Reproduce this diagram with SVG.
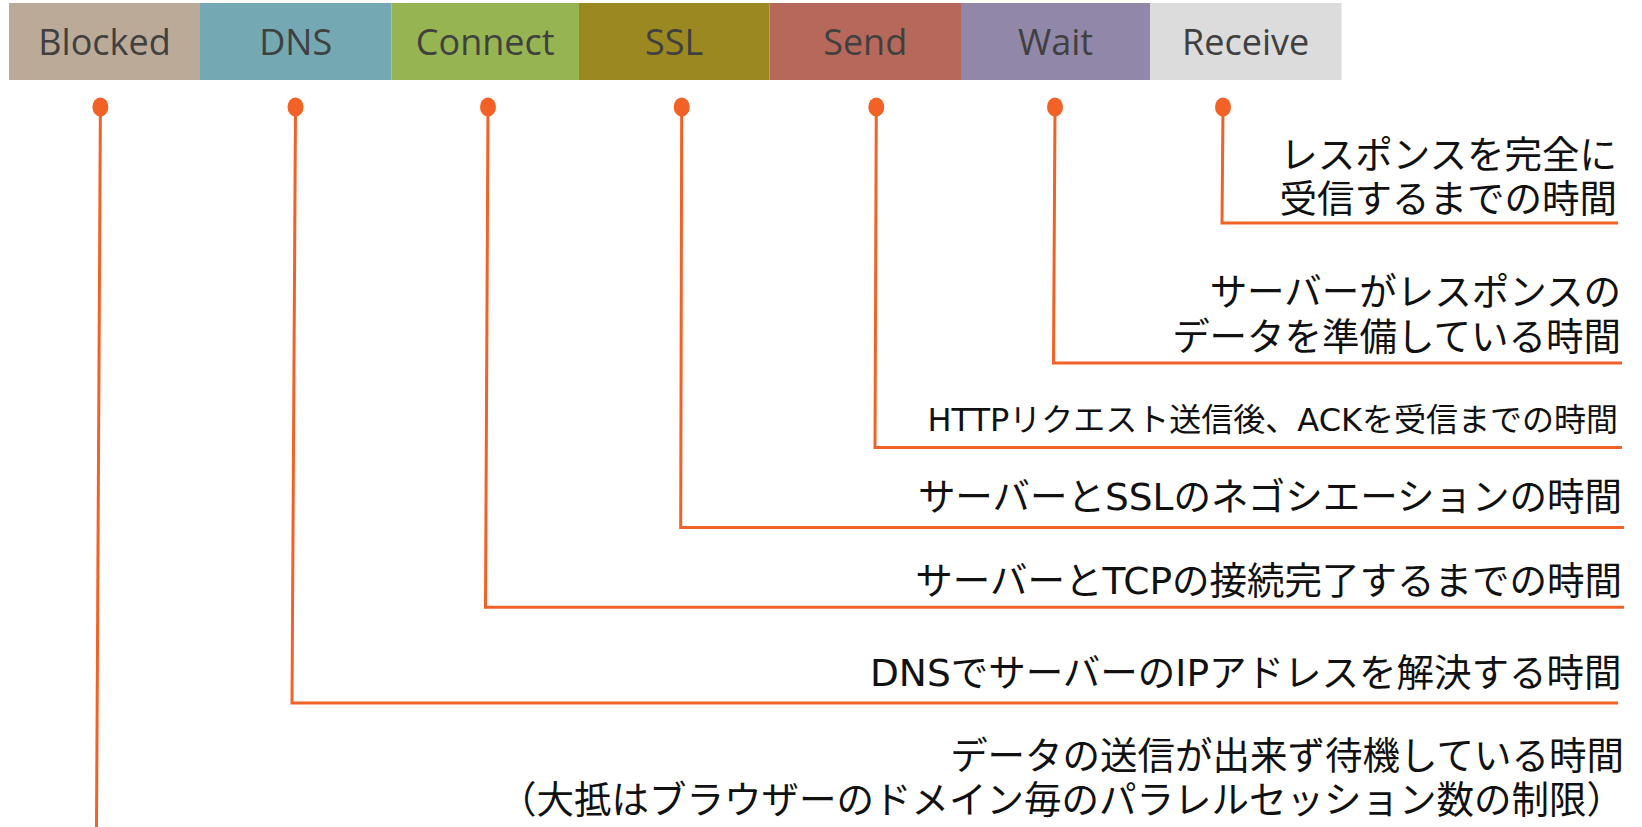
<svg xmlns="http://www.w3.org/2000/svg" width="1642" height="827" viewBox="0 0 1642 827">
  <style>
    .phase-label { font-family: "Open Sans", "Liberation Sans", sans-serif; font-size: 36px; fill: #404040; text-anchor: middle; }
    .desc { font-family: "DejaVu Sans", "Noto Sans CJK JP", sans-serif; font-size: 37.5px; fill: #111111; text-anchor: end; }
    .desc-small { font-size: 32px; }
    .wire { fill: none; stroke: #F26125; stroke-width: 3; stroke-linejoin: miter; }
    .pin { fill: #F26125; }
  </style>

  <!-- timing phases bar -->
  <g id="phase-blocked">
    <rect x="9" y="3" width="191" height="77" fill="#BCAA99"/>
    <text class="phase-label" x="104.5" y="55">Blocked</text>
  </g>
  <g id="phase-dns">
    <rect x="200" y="3" width="191.5" height="77" fill="#74A8B2"/>
    <text class="phase-label" x="295.7" y="55">DNS</text>
  </g>
  <g id="phase-connect">
    <rect x="391.5" y="3" width="187.5" height="77" fill="#96B552"/>
    <text class="phase-label" x="485.2" y="55">Connect</text>
  </g>
  <g id="phase-ssl">
    <rect x="579" y="3" width="190.5" height="77" fill="#9B8820"/>
    <text class="phase-label" x="674.2" y="55">SSL</text>
  </g>
  <g id="phase-send">
    <rect x="769.5" y="3" width="191.5" height="77" fill="#B6695A"/>
    <text class="phase-label" x="865.2" y="55">Send</text>
  </g>
  <g id="phase-wait">
    <rect x="961" y="3" width="189" height="77" fill="#9087A9"/>
    <text class="phase-label" x="1055.5" y="55">Wait</text>
  </g>
  <g id="phase-receive">
    <rect x="1150" y="3" width="191.5" height="77" fill="#DCDCDC"/>
    <text class="phase-label" x="1245.7" y="55">Receive</text>
  </g>

  <!-- leader lines from each phase to its description -->
  <g id="connectors">
    <path class="wire" d="M1223,107 L1222,223 L1618,223"/>
    <path class="wire" d="M1055,107 L1053.5,363 L1622,363"/>
    <path class="wire" d="M876.3,107 L875,447.5 L1622,447.5"/>
    <path class="wire" d="M681.7,107 L680.7,527.5 L1624,527.5"/>
    <path class="wire" d="M488,107 L485.5,607.3 L1624,607.3"/>
    <path class="wire" d="M295.5,107 L292,703 L1618,703"/>
    <path class="wire" d="M100.4,107 L96.5,827"/>
    <ellipse class="pin" cx="1223" cy="107" rx="8" ry="9.5"/>
    <ellipse class="pin" cx="1055" cy="107" rx="8" ry="9.5"/>
    <ellipse class="pin" cx="876.3" cy="107" rx="8" ry="9.5"/>
    <ellipse class="pin" cx="681.7" cy="107" rx="8" ry="9.5"/>
    <ellipse class="pin" cx="488" cy="107" rx="8" ry="9.5"/>
    <ellipse class="pin" cx="295.5" cy="107" rx="8" ry="9.5"/>
    <ellipse class="pin" cx="100.4" cy="107" rx="8" ry="9.5"/>
  </g>

  <!-- descriptions -->
  <g id="desc-receive">
    <text class="desc" x="1617" y="167.5">レスポンスを完全に</text>
    <text class="desc" x="1617" y="211.5">受信するまでの時間</text>
  </g>
  <g id="desc-wait">
    <text class="desc" x="1621" y="304.5">サーバーがレスポンスの</text>
    <text class="desc" x="1621" y="349.5">データを準備している時間</text>
  </g>
  <g id="desc-send">
    <text class="desc desc-small" x="1618" y="431">HTTPリクエスト送信後、ACKを受信までの時間</text>
  </g>
  <g id="desc-ssl">
    <text class="desc" x="1622" y="510">サーバーとSSLのネゴシエーションの時間</text>
  </g>
  <g id="desc-connect">
    <text class="desc" x="1622" y="594">サーバーとTCPの接続完了するまでの時間</text>
  </g>
  <g id="desc-dns">
    <text class="desc" x="1621.5" y="685.5">DNSでサーバーのIPアドレスを解決する時間</text>
  </g>
  <g id="desc-blocked">
    <text class="desc" x="1624" y="768.5">データの送信が出来ず待機している時間</text>
    <text class="desc" x="1624" y="812.5">（大抵はブラウザーのドメイン毎のパラレルセッション数の制限）</text>
  </g>
</svg>
